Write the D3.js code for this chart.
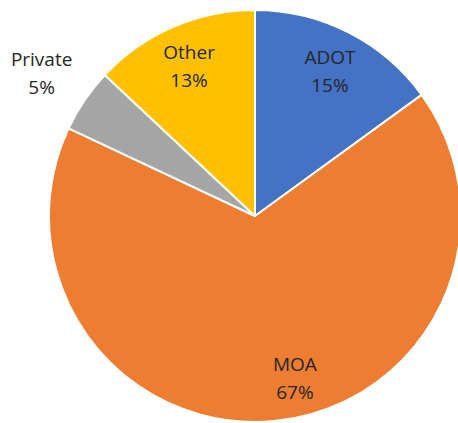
<!DOCTYPE html>
<html lang="en">
<head>
<meta charset="utf-8">
<title>Share by owner</title>
<script src="https://cdn.jsdelivr.net/npm/d3@7"></script>
<style>
  body { margin: 0; background: #fff; }
  text { font-family: "Open Sans", "Liberation Sans", sans-serif; fill: #262626; }
</style>
</head>
<body>
<script>
// data
var categories = ["ADOT", "MOA", "Private", "Other"];
var shares = [15, 67, 5, 13];
var colors = ["#4472C4", "#ED7D31", "#A5A5A5", "#FFC000"];

var width = 458, height = 423;
var cx = 255, cy = 216, radius = 206;

var svg = d3.select("body").append("svg")
  .attr("width", width).attr("height", height);

var g = svg.append("g").attr("transform", "translate(" + cx + "," + cy + ")");

var pie = d3.pie().sort(null).value(function (d) { return d.value; });
var arc = d3.arc().innerRadius(0).outerRadius(radius);

var rows = categories.map(function (c, i) {
  return { name: c, value: shares[i], color: colors[i] };
});
var arcs = pie(rows);

g.selectAll("path")
  .data(arcs)
  .enter()
  .append("path")
  .attr("d", arc)
  .attr("fill", function (d) { return d.data.color; })
  .attr("stroke", "#fff")
  .attr("stroke-width", 2)
  .attr("stroke-linejoin", "round");

// label distance from centre, Excel-ish placement
var labelR = { ADOT: 165, MOA: 165, Private: 258, Other: 166 };

var labels = g.selectAll("g.lbl")
  .data(arcs)
  .enter()
  .append("g")
  .attr("class", "lbl")
  .attr("transform", function (d) {
    var a = (d.startAngle + d.endAngle) / 2;
    var r = labelR[d.data.name];
    if (d.data.name === "MOA") a = a - 0.15;
    return "translate(" + (Math.sin(a) * r) + "," + (-Math.cos(a) * r) + ")";
  });

labels.append("text")
  .attr("text-anchor", "middle")
  .attr("y", -5)
  .style("font-size", "19px")
  .text(function (d) { return d.data.name; });

labels.append("text")
  .attr("text-anchor", "middle")
  .attr("y", 23)
  .style("font-size", "19px")
  .text(function (d) { return d.data.value + "%"; });
</script>
</body>
</html>
